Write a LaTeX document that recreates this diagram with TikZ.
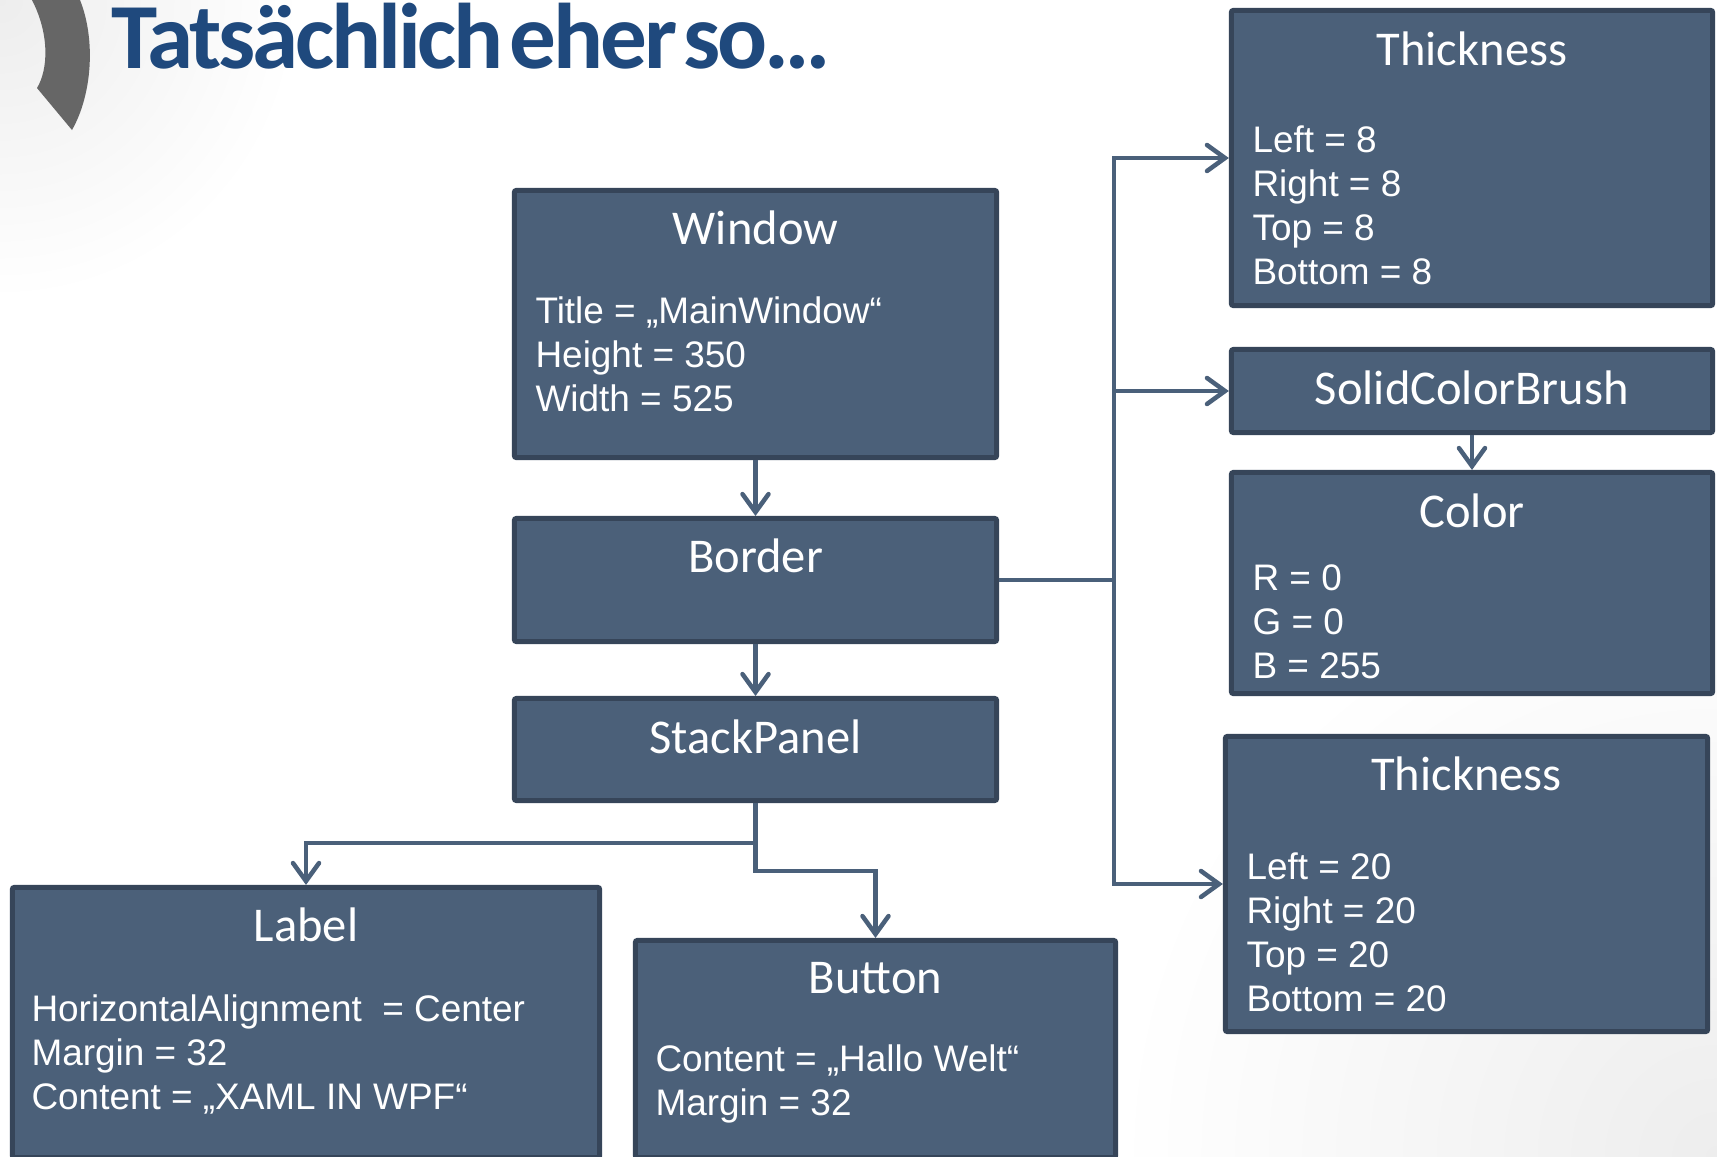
\documentclass[tikz,border=0pt]{standalone}
\usepackage{fontspec}
\setmainfont{Liberation Sans}
\newfontfamily\headfont{Carlito}
\newfontfamily\slidefont[LetterSpace=-3.4,WordSpace=0.35]{Carlito}
\usetikzlibrary{arrows.meta}
\definecolor{boxfill}{RGB}{75,96,121}
\definecolor{boxline}{RGB}{54,69,89}
\definecolor{wirecol}{RGB}{74,96,122}
\definecolor{heading}{RGB}{31,73,125}
\definecolor{crescent}{RGB}{102,102,102}

\begin{document}
\begin{tikzpicture}[x=0.01cm,y=-0.01cm]
                          \tikzstyle{every node}+=[inner sep=0pt]
                          \tikzstyle{obj}=[draw=boxline,fill=boxfill,line width=0.05cm,rounded corners=0.02cm]
                          \tikzstyle{objname}=[anchor=base,text=white,font=\headfont\fontsize{13.8}{16}\selectfont]
                          \tikzstyle{props}=[anchor=north west,align=left,text=white,font=\fontsize{10.5}{12.5}\selectfont]
                          \tikzstyle{wire}=[draw=wirecol,line width=0.045cm,-{Straight Barb[length=0.18cm,width=0.26cm,line cap=round]}]
                          \useasboundingbox (0,0) rectangle (1717,1157);
                          \fill [white] (0,0) rectangle (1717,1157);
                          \begin{scope}
                            \clip (0,0) rectangle (1717,1157);
                            \shade [inner color=black!7,outer color=white] (0,0) circle (300);
                            \shade [inner color=black!7,outer color=white] (1717,1157) circle (600);
                          \end{scope}
                          \fill [crescent] (32,0) .. controls (50,35) and (48,70) .. (37,88) -- (72,130) .. controls (92,95) and (96,40) .. (80,0) -- cycle;
                          \node [anchor=base west,text=heading,font=\slidefont\bfseries\fontsize{26.5}{30}\selectfont] (heading) at (111,68) {Tatsächlich eher so…};
                          \node [obj,minimum width=4.82cm,minimum height=2.67cm] (window) at (755.5,324) {};
                          \node [objname] (window-t) at ([yshift=-0.57cm]window.north) {Window};
                          \node [props] (window-p) at ([xshift=0.23cm,yshift=-1.08cm]window.north west) {Title = „MainWindow“\\Height = 350\\Width = 525};
                          \node [obj,minimum width=4.82cm,minimum height=1.23cm] (border) at (755.5,580) {};
                          \node [objname] (border-t) at ([yshift=-0.56cm]border.north) {Border};
                          \node [obj,minimum width=4.82cm,minimum height=1.02cm] (stack) at (755.5,749.5) {};
                          \node [objname] (stack-t) at ([yshift=-0.57cm]stack.north) {StackPanel};
                          \node [obj,minimum width=5.87cm,minimum height=2.70cm] (label) at (306,1022.5) {};
                          \node [objname] (label-t) at ([yshift=-0.57cm]label.north) {Label};
                          \node [props] (label-p) at ([xshift=0.21cm,yshift=-1.09cm]label.north west) {HorizontalAlignment \ = Center\\Margin = 32\\Content = „XAML IN WPF“};
                          \node [obj,minimum width=4.80cm,minimum height=2.17cm] (button) at (875.5,1049) {};
                          \node [objname] (button-t) at ([yshift=-0.56cm]button.north) {Button};
                          \node [props] (button-p) at ([xshift=0.22cm,yshift=-1.06cm]button.north west) {Content = „Hallo Welt“\\Margin = 32};
                          \node [obj,minimum width=4.81cm,minimum height=2.95cm] (thickA) at (1472,158) {};
                          \node [objname] (thickA-t) at ([yshift=-0.58cm]thickA.north) {Thickness};
                          \node [props] (thickA-p) at ([xshift=0.23cm,yshift=-1.17cm]thickA.north west) {Left = 8\\Right = 8\\Top = 8\\Bottom = 8};
                          \node [obj,minimum width=4.81cm,minimum height=0.83cm] (brush) at (1472,391) {};
                          \node [objname] (brush-t) at ([yshift=-0.57cm]brush.north) {SolidColorBrush};
                          \node [obj,minimum width=4.81cm,minimum height=2.21cm] (color) at (1472,583) {};
                          \node [objname] (color-t) at ([yshift=-0.58cm]color.north) {Color};
                          \node [props] (color-p) at ([xshift=0.23cm,yshift=-0.94cm]color.north west) {R = 0\\G = 0\\B = 255};
                          \node [obj,minimum width=4.82cm,minimum height=2.95cm] (thickB) at (1466.5,884) {};
                          \node [objname] (thickB-t) at ([yshift=-0.57cm]thickB.north) {Thickness};
                          \node [props] (thickB-p) at ([xshift=0.23cm,yshift=-1.18cm]thickB.north west) {Left = 20\\Right = 20\\Top = 20\\Bottom = 20};
                          \coordinate (bus) at (1114,580);
                          \draw [wire] (window.south) -- (border.north);
                          \draw [wire] (border.south) -- (stack.north);
                          \draw [wire] (brush.south) -- (color.north);
                          \draw [wire] (border.east) -- (bus) |- (thickA.west);
                          \draw [wire] (bus) |- (brush.west);
                          \draw [wire] (bus) |- (thickB.west);
                          \draw [wire] (stack.south) -- ++(0,40) -| (label.north);
                          \draw [wire] (stack.south) -- ++(0,68) -| (button.north);
                      \end{tikzpicture}
\end{document}
